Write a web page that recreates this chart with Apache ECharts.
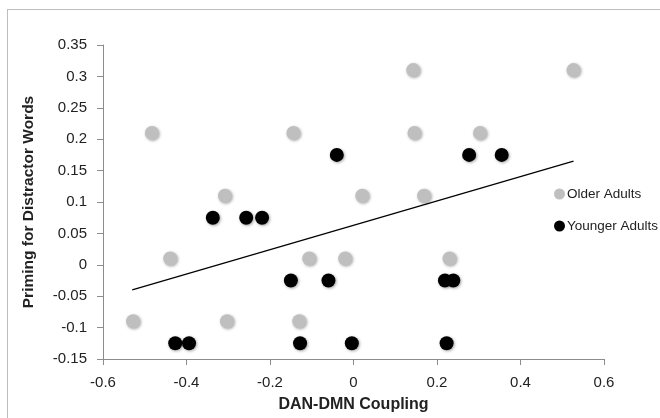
<!DOCTYPE html>
<html>
<head>
<meta charset="utf-8">
<script src="https://cdn.jsdelivr.net/npm/echarts@6/dist/echarts.min.js"></script>
<style>
html,body{margin:0;padding:0;background:#fff;}
#frame{position:absolute;left:7px;top:9px;width:660px;height:420px;border:1px solid #bdbdbd;box-sizing:border-box;}
#chart{position:absolute;left:0;top:0;width:660px;height:418px;}
</style>
</head>
<body>
<div id="frame"></div>
<div id="chart"></div>
<script>
// Older adults (x = DAN-DMN coupling, y = priming)
const olderX = [-0.528, -0.483, -0.439, -0.308, -0.303, -0.144, -0.130, -0.106, -0.020, 0.021, 0.143, 0.146, 0.169, 0.303, 0.527, 0.230];
const olderY = [-0.09, 0.21, 0.01, 0.11, -0.09, 0.21, -0.09, 0.01, 0.01, 0.11, 0.31, 0.21, 0.11, 0.21, 0.31, 0.01];
// Younger adults
const youngerX = [-0.427, -0.394, -0.337, -0.257, -0.219, -0.150, -0.128, -0.060, -0.040, -0.004, 0.219, 0.239, 0.223, 0.277, 0.355];
const youngerY = [-0.125, -0.125, 0.075, 0.075, 0.075, -0.025, -0.125, -0.025, 0.175, -0.125, -0.025, -0.025, -0.125, 0.175, 0.175];
// Linear trendline endpoints
const trendX = [-0.530, 0.527];
const trendY = [-0.040, 0.165];

const seriesNames = ['Older Adults', 'Younger Adults'];
const xTitle = 'DAN-DMN Coupling';
const yTitle = 'Priming for Distractor Words';

const zip = (a, b) => a.map((v, i) => [v, b[i]]);
const font = 'Liberation Sans, Arial, sans-serif';
const markerShadow = {opacity: 1, shadowColor: 'rgba(0,0,0,0.35)', shadowBlur: 3, shadowOffsetX: 1, shadowOffsetY: 1};

const chart = echarts.init(document.getElementById('chart'), null, {renderer: 'canvas'});
chart.setOption({
  animation: false,
  backgroundColor: 'transparent',
  textStyle: {fontFamily: font},
  grid: {left: 103, right: 56, top: 45, bottom: 57, containLabel: false},
  legend: {
    orient: 'vertical', left: 549, top: 182, itemWidth: 11, itemHeight: 11, itemGap: 18,
    icon: 'circle', data: seriesNames,
    itemStyle: {opacity: 1},
    textStyle: {fontSize: 13.5, color: '#222', fontFamily: font, padding: [0, 0, 0, -3]}
  },
  xAxis: {
    type: 'value', min: -0.6, max: 0.6, interval: 0.2,
    name: xTitle, nameLocation: 'middle', nameGap: 38,
    nameTextStyle: {fontSize: 16, fontWeight: 'bold', color: '#222', fontFamily: font},
    axisLine: {show: true, onZero: false, lineStyle: {color: '#8c8c8c', width: 1}},
    axisTick: {show: true, length: 6, lineStyle: {color: '#8c8c8c'}},
    axisLabel: {fontSize: 15, color: '#222', margin: 16, formatter: v => String(Math.round(v * 10) / 10)},
    splitLine: {show: false}
  },
  yAxis: {
    type: 'value', min: -0.15, max: 0.35, interval: 0.05,
    name: yTitle, nameLocation: 'middle', nameGap: 66, nameRotate: 90,
    nameTextStyle: {fontSize: 15.5, fontWeight: 'bold', color: '#222', fontFamily: font},
    axisLine: {show: true, onZero: false, lineStyle: {color: '#8c8c8c', width: 1}},
    axisTick: {show: true, length: 6, lineStyle: {color: '#8c8c8c'}},
    axisLabel: {fontSize: 15, color: '#222', margin: 16, formatter: v => String(Math.round(v * 100) / 100)},
    splitLine: {show: false}
  },
  series: [
    {name: seriesNames[0], type: 'scatter', symbol: 'circle', symbolSize: 14, data: zip(olderX, olderY),
     itemStyle: Object.assign({color: '#bfbfbf'}, markerShadow), z: 3},
    {name: seriesNames[1], type: 'scatter', symbol: 'circle', symbolSize: 14, data: zip(youngerX, youngerY),
     itemStyle: Object.assign({color: '#000000'}, markerShadow), z: 4},
    {name: 'Trend', type: 'line', data: zip(trendX, trendY), showSymbol: false, symbol: 'none',
     lineStyle: {color: '#000', width: 1.2}, z: 5}
  ]
});
</script>
</body>
</html>
